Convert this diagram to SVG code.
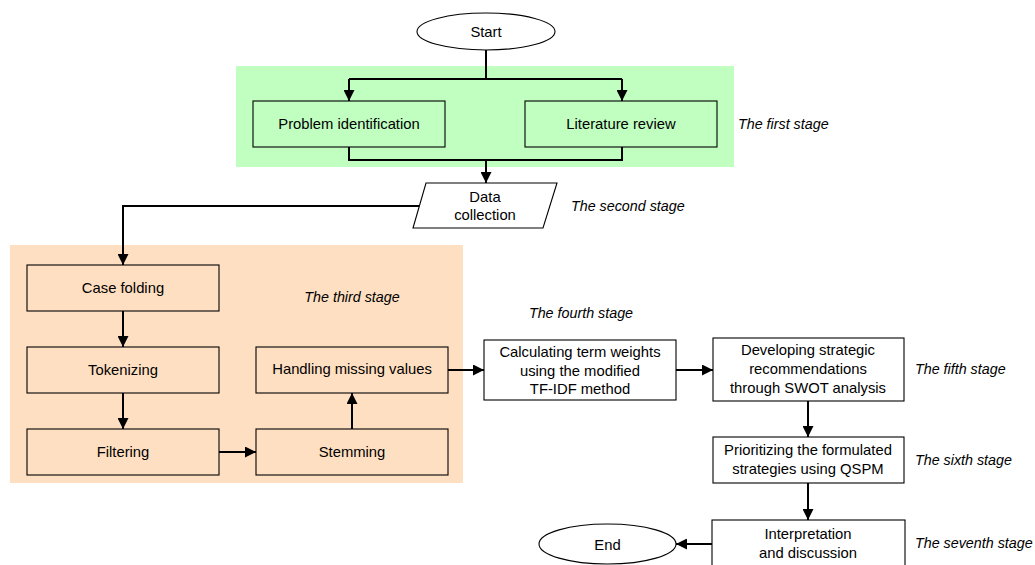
<svg xmlns="http://www.w3.org/2000/svg" width="1035" height="565" viewBox="0 0 1035 565">
<style>
  .box{fill:none;stroke:#000;stroke-width:1.1}
  .wbox{fill:#fff;stroke:#000;stroke-width:1.1}
  .t{font-family:"Liberation Sans",Arial,sans-serif;font-size:14.8px;fill:#000;text-anchor:middle;dominant-baseline:central}
  .lab{font-family:"Liberation Sans",Arial,sans-serif;font-size:14.3px;font-style:italic;fill:#000;dominant-baseline:central}
  .c{fill:none;stroke:#000;stroke-width:2}
</style>
<defs>
  <marker id="ah" viewBox="0 0 11 11" refX="11" refY="5.5" markerWidth="11" markerHeight="11" markerUnits="userSpaceOnUse" orient="auto">
    <path d="M0,0 L11,5.5 L0,11 z" fill="#000"/>
  </marker>
</defs>
<rect id="stage1-bg" x="236" y="66" width="498" height="101" fill="#c0ffc0"/>
<rect id="stage3-bg" x="10" y="245" width="453" height="238" fill="#ffdfc1"/>
<g id="connectors">
  <path class="c" d="M486,50 V79 M349,79 H622"/>
  <path class="c" d="M349,79 V101" marker-end="url(#ah)"/>
  <path class="c" d="M622,79 V101" marker-end="url(#ah)"/>
  <path class="c" d="M349,147 V160 H622 V147"/>
  <path class="c" d="M486,160 V183" marker-end="url(#ah)"/>
  <path class="c" d="M420,206 H123 V265" marker-end="url(#ah)"/>
  <path class="c" d="M123,311 V347" marker-end="url(#ah)"/>
  <path class="c" d="M123,393 V429" marker-end="url(#ah)"/>
  <path class="c" d="M219,452 H256" marker-end="url(#ah)"/>
  <path class="c" d="M352,429 V393" marker-end="url(#ah)"/>
  <path class="c" d="M448,370 H484" marker-end="url(#ah)"/>
  <path class="c" d="M676,370 H713" marker-end="url(#ah)"/>
  <path class="c" d="M808,401 V437" marker-end="url(#ah)"/>
  <path class="c" d="M808,483 V520" marker-end="url(#ah)"/>
  <path class="c" d="M712,544 H676" marker-end="url(#ah)"/>
</g>
<g id="start">
  <ellipse class="wbox" cx="486" cy="31.5" rx="69" ry="18.5"/>
  <text class="t" x="486" y="31.5">Start</text>
</g>
<g id="problem">
  <rect class="box" x="253" y="101" width="192" height="46"/>
  <text class="t" x="349" y="124">Problem identification</text>
</g>
<g id="literature">
  <rect class="box" x="525" y="101" width="192" height="46"/>
  <text class="t" x="621" y="124">Literature review</text>
</g>
<g id="data">
  <polygon class="wbox" points="426,183 557,183 543,228 413,228"/>
  <text class="t" x="485" y="197">Data</text>
  <text class="t" x="485" y="215">collection</text>
</g>
<g id="casefolding">
  <rect class="box" x="27" y="265" width="192" height="46"/>
  <text class="t" x="123" y="288">Case folding</text>
</g>
<g id="tokenizing">
  <rect class="box" x="27" y="347" width="192" height="46"/>
  <text class="t" x="123" y="370">Tokenizing</text>
</g>
<g id="filtering">
  <rect class="box" x="27" y="429" width="192" height="46"/>
  <text class="t" x="123" y="452">Filtering</text>
</g>
<g id="stemming">
  <rect class="box" x="256" y="429" width="192" height="46"/>
  <text class="t" x="352" y="452">Stemming</text>
</g>
<g id="handling">
  <rect class="box" x="256" y="347" width="192" height="46"/>
  <text class="t" x="352" y="369">Handling missing values</text>
</g>
<g id="tfidf">
  <rect class="box" x="484" y="340" width="192" height="60"/>
  <text class="t" x="580" y="352">Calculating term weights</text>
  <text class="t" x="580" y="371">using the modified</text>
  <text class="t" x="580" y="389">TF-IDF method</text>
</g>
<g id="swot">
  <rect class="box" x="713" y="338" width="191" height="63"/>
  <text class="t" x="808" y="350">Developing strategic</text>
  <text class="t" x="808" y="369">recommendations</text>
  <text class="t" x="808" y="388">through SWOT analysis</text>
</g>
<g id="qspm">
  <rect class="box" x="713" y="437" width="191" height="46"/>
  <text class="t" x="808" y="450">Prioritizing the formulated</text>
  <text class="t" x="808" y="469">strategies using QSPM</text>
</g>
<g id="interpretation">
  <rect class="box" x="712" y="520" width="193" height="60"/>
  <text class="t" x="808" y="534">Interpretation</text>
  <text class="t" x="808" y="553">and discussion</text>
</g>
<g id="end">
  <ellipse class="wbox" cx="607.5" cy="544" rx="68.5" ry="20"/>
  <text class="t" x="607.5" y="545">End</text>
</g>
<g id="labels">
  <text class="lab" x="738" y="124">The first stage</text>
  <text class="lab" x="571" y="206">The second stage</text>
  <text class="lab" x="352" y="297" text-anchor="middle">The third stage</text>
  <text class="lab" x="581" y="313" text-anchor="middle">The fourth stage</text>
  <text class="lab" x="915" y="369">The fifth stage</text>
  <text class="lab" x="915" y="460">The sixth stage</text>
  <text class="lab" x="915" y="543">The seventh stage</text>
</g>
</svg>
